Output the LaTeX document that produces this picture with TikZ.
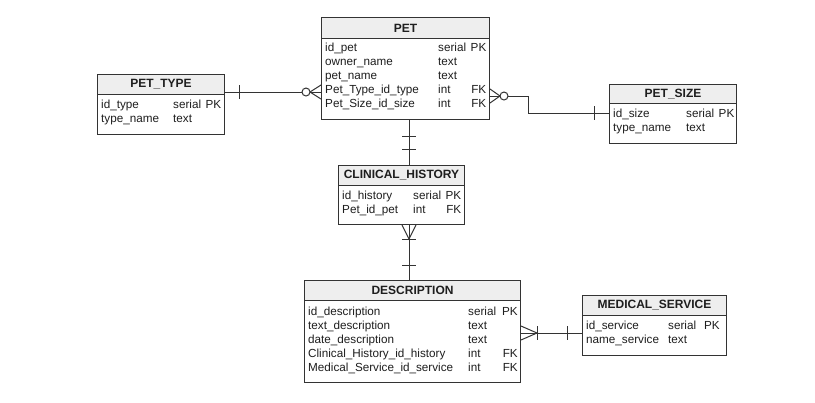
\documentclass[tikz,border=0pt]{standalone}
\usepackage{fontspec}
\setmainfont{Liberation Sans}
\usepackage{array}
\usetikzlibrary{calc}
\definecolor{lcol}{HTML}{333333}
\definecolor{hcol}{HTML}{EEEEEE}
\definecolor{tcol}{HTML}{1E1E1E}
\begin{document}
\begin{tikzpicture}[x=1bp,y=-1bp,
  lc/.style={draw=lcol, line width=1bp},
  tbox/.style={draw=lcol, line width=1bp, fill=white, rectangle, inner sep=0pt, anchor=north west},
  thead/.style={draw=lcol, line width=1bp, fill=hcol, rectangle, inner sep=0pt, anchor=north west, text=tcol, font=\fontsize{12bp}{14bp}\selectfont\bfseries},
  trows/.style={anchor=base west, inner sep=0pt, text=tcol, font=\fontsize{11.7bp}{14bp}\selectfont}]
\useasboundingbox[fill=white] (0,0) rectangle (815,402);

% PET
\node[tbox, minimum width=168bp, minimum height=102bp] (pet) at (321,17) {};
\node[thead, minimum width=168bp, minimum height=21bp] (pet-h) at (321,17) {PET};
\node[trows] (pet-r) at (325,51) {\begin{tabular}[t]{@{}p{113bp}@{}p{32.5bp}@{}r@{}}
id\_pet & serial & PK\\
owner\_name & text & \\
pet\_name & text & \\
Pet\_Type\_id\_type & int & FK\\
Pet\_Size\_id\_size & int & FK
\end{tabular}};

% PET_TYPE
\node[tbox, minimum width=127bp, minimum height=60bp] (pettype) at (97,74) {};
\node[thead, minimum width=127bp, minimum height=20bp] (pettype-h) at (97,74) {PET\_TYPE};
\node[trows] (pettype-r) at (101,108) {\begin{tabular}[t]{@{}p{72bp}@{}p{32.5bp}@{}r@{}}
id\_type & serial & PK\\
type\_name & text &
\end{tabular}};

% PET_SIZE
\node[tbox, minimum width=127bp, minimum height=59bp] (petsize) at (609,84) {};
\node[thead, minimum width=127bp, minimum height=19bp] (petsize-h) at (609,84) {PET\_SIZE};
\node[trows] (petsize-r) at (613,117) {\begin{tabular}[t]{@{}p{73bp}@{}p{32.5bp}@{}r@{}}
id\_size & serial & PK\\
type\_name & text &
\end{tabular}};

% CLINICAL_HISTORY
\node[tbox, minimum width=126bp, minimum height=59bp] (ch) at (338,165) {};
\node[thead, minimum width=126bp, minimum height=20bp] (ch-h) at (338,165) {CLINICAL\_HISTORY};
\node[trows] (ch-r) at (342,199) {\begin{tabular}[t]{@{}p{71bp}@{}p{32.5bp}@{}r@{}}
id\_history & serial & PK\\
Pet\_id\_pet & int & FK
\end{tabular}};

% DESCRIPTION
\node[tbox, minimum width=216bp, minimum height=102bp] (desc) at (304,280) {};
\node[thead, minimum width=216bp, minimum height=20bp] (desc-h) at (304,280) {DESCRIPTION};
\node[trows] (desc-r) at (308,315) {\begin{tabular}[t]{@{}p{160bp}@{}p{34bp}@{}r@{}}
id\_description & serial & PK\\
text\_description & text & \\
date\_description & text & \\
Clinical\_History\_id\_history & int & FK\\
Medical\_Service\_id\_service & int & FK
\end{tabular}};

% MEDICAL_SERVICE
\node[tbox, minimum width=144bp, minimum height=60bp] (ms) at (582,295) {};
\node[thead, minimum width=144bp, minimum height=20bp] (ms-h) at (582,295) {MEDICAL\_SERVICE};
\node[trows] (ms-r) at (586,329) {\begin{tabular}[t]{@{}p{82bp}@{}p{36bp}@{}r@{}}
id\_service & serial & PK\\
name\_service & text &
\end{tabular}};

% helper coordinates
\coordinate (r1) at (0,92);
\coordinate (r2) at (0,96);
\coordinate (r3) at (0,113);
\coordinate (r5) at (0,333);
\coordinate (k2) at (528,0);
\coordinate (v1) at (409,0);

% PET_TYPE -- PET
\coordinate (c1a) at (pettype.east |- r1);
\coordinate (c1b) at (pet.west |- r1);
\draw[lc] (c1a) -- (c1b);
\draw[lc] ($(c1a)+(14,-7)$) -- ++(0,14);
\draw[lc] ($(c1b)+(0,-7)$) -- ++(-11,7) -- ++(11,7);
\draw[lc, fill=white] ($(c1b)+(-15,0)$) circle[radius=4bp];

% PET -- PET_SIZE
\coordinate (c2a) at (pet.east |- r2);
\coordinate (c2b) at (petsize.west |- r3);
\draw[lc] (c2a) -- (k2 |- r2) -- (k2 |- r3) -- (c2b);
\draw[lc] ($(c2a)+(0,-7)$) -- ++(10,7) -- ++(-10,7);
\draw[lc, fill=white] ($(c2a)+(14,0)$) circle[radius=4bp];
\draw[lc] ($(c2b)+(-15,-7)$) -- ++(0,14);

% PET -- CLINICAL_HISTORY
\coordinate (c3a) at (v1 |- pet.south);
\coordinate (c3b) at (v1 |- ch.north);
\draw[lc] (c3a) -- (c3b);
\draw[lc] ($(c3a)+(-7,16)$) -- ++(14,0);
\draw[lc] ($(c3b)+(-7,-16)$) -- ++(14,0);

% CLINICAL_HISTORY -- DESCRIPTION
\coordinate (c4a) at (v1 |- ch.south);
\coordinate (c4b) at (v1 |- desc.north);
\draw[lc] (c4a) -- (c4b);
\draw[lc] ($(c4a)+(-7,0)$) -- ++(7,14) -- ++(7,-14);
\draw[lc] ($(c4a)+(-7,14)$) -- ++(14,0);
\draw[lc] ($(c4b)+(-7,-15)$) -- ++(14,0);

% DESCRIPTION -- MEDICAL_SERVICE
\coordinate (c5a) at (desc.east |- r5);
\coordinate (c5b) at (ms.west |- r5);
\draw[lc] (c5a) -- (c5b);
\draw[lc] ($(c5a)+(0,-7)$) -- ++(16,7) -- ++(-16,7);
\draw[lc] ($(c5a)+(16,-7)$) -- ++(0,14);
\draw[lc] ($(c5b)+(-15,-7)$) -- ++(0,14);
\end{tikzpicture}
\end{document}
